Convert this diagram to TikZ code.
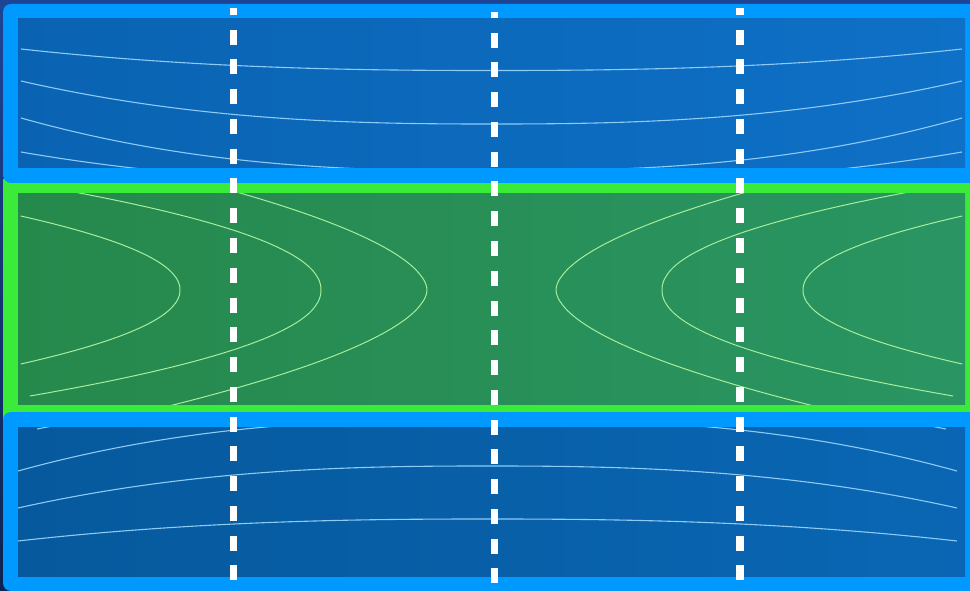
\documentclass[tikz,border=0pt]{standalone}
\definecolor{bgtop}{HTML}{1C4596}
\definecolor{bgbot}{HTML}{0B2452}
\definecolor{bluebord}{HTML}{0099FF}
\definecolor{greenbord}{HTML}{3AEB3A}
\definecolor{topinL}{HTML}{0A63B2}
\definecolor{topinR}{HTML}{0E70C6}
\definecolor{grninL}{HTML}{26894C}
\definecolor{grninR}{HTML}{2A9563}
\definecolor{botinL}{HTML}{06599C}
\definecolor{botinR}{HTML}{0A66B4}
\definecolor{bluecurve}{HTML}{8CCBF5}
\definecolor{greencurve}{HTML}{A6EE9C}
\tikzset{
  bluefield/.style={draw=bluecurve, line width=1.1pt},
  greenfield/.style={draw=greencurve, line width=1pt},
  divider/.style={draw=white, line width=7.5pt, dash pattern=on 15pt off 14.75pt},
}
\begin{document}
\begin{tikzpicture}[x=1pt,y=-1pt]
\useasboundingbox (0,0) rectangle (970,591);
\clip (0,0) rectangle (970,591);
\shade[top color=bgtop, bottom color=bgbot] (0,0) rectangle (970,591);

% ---- green band ----
\fill[greenbord] (3,179) rectangle (990,419);
\shade[left color=grninL, right color=grninR] (18,194) rectangle (965,404);
\begin{scope}
  \clip (18,194) rectangle (965,404);
  % left family
  \draw[greenfield] plot[domain=-74:74, samples=90, variable=\t, smooth]
    ({180-296*pow(abs(\t)/100+0.0001,2.06)}, {290+\t});
  \draw[greenfield] plot[domain=-100:106, samples=110, variable=\t, smooth]
    ({321-257.5*pow(abs(\t)/100+0.0001,2.1)}, {290+\t});
  \draw[greenfield] plot[domain=-104:120, samples=110, variable=\t, smooth]
    ({427-197.5*pow(abs(\t)/100+0.0001,1.8)}, {290+\t});
  % right family
  \draw[greenfield] plot[domain=-74:74, samples=90, variable=\t, smooth]
    ({803+296*pow(abs(\t)/100+0.0001,2.06)}, {290+\t});
  \draw[greenfield] plot[domain=-100:106, samples=110, variable=\t, smooth]
    ({662+257.5*pow(abs(\t)/100+0.0001,2.1)}, {290+\t});
  \draw[greenfield] plot[domain=-104:120, samples=110, variable=\t, smooth]
    ({556+197.5*pow(abs(\t)/100+0.0001,1.8)}, {290+\t});
\end{scope}

% ---- top blue band ----
\fill[bluebord, rounded corners=8pt] (3,4) rectangle (990,183);
\shade[left color=topinL, right color=topinR] (18,19) rectangle (965,168);
\begin{scope}
  \clip (18,19) rectangle (965,168);
  \draw[bluefield] plot[domain=21:962, samples=121, smooth]
    (\x, {70.5-21.5*pow(abs(\x-491.5)/470.5+0.0001,2.4)});
  \draw[bluefield] plot[domain=21:962, samples=121, smooth]
    (\x, {124-43*pow(abs(\x-491.5)/470.5+0.0001,2.5)});
  \draw[bluefield] plot[domain=21:962, samples=121, smooth]
    (\x, {171-53*pow(abs(\x-491.5)/470.5+0.0001,2.5)});
  \draw[bluefield] plot[domain=21:962, samples=121, smooth]
    (\x, {184.5-32.5*pow(abs(\x-491.5)/470.5+0.0001,2.5)});
\end{scope}

% ---- bottom blue band ----
\fill[bluebord, rounded corners=8pt] (3,412) rectangle (990,591);
\shade[left color=botinL, right color=botinR] (18,427) rectangle (965,576);
\begin{scope}
  \clip (18,427) rectangle (965,576);
  \draw[bluefield] plot[domain=37:946, samples=121, smooth]
    (\x, {393+36*pow(abs(\x-491.5)/454.5+0.0001,2.5)});
  \draw[bluefield] plot[domain=18:957, samples=121, smooth]
    (\x, {419+52*pow(abs(\x-487.5)/469.5+0.0001,2.5)});
  \draw[bluefield] plot[domain=18:957, samples=121, smooth]
    (\x, {466+42*pow(abs(\x-487.5)/469.5+0.0001,2.5)});
  \draw[bluefield] plot[domain=18:957, samples=121, smooth]
    (\x, {519+22*pow(abs(\x-487.5)/469.5+0.0001,2.4)});
\end{scope}

% ---- dashed dividers ----
\coordinate (d1t) at (233.5,8);   \coordinate (d1b) at (233.5,580);
\coordinate (d2t) at (494.3,12);  \coordinate (d2b) at (494.3,584);
\coordinate (d3t) at (740.2,8);   \coordinate (d3b) at (740.2,580);
\draw[divider, dash phase=8pt] (d1t) -- (d1b);
\draw[divider, dash phase=9pt] (d2t) -- (d2b);
\draw[divider, dash phase=8pt] (d3t) -- (d3b);
\end{tikzpicture}
\end{document}
